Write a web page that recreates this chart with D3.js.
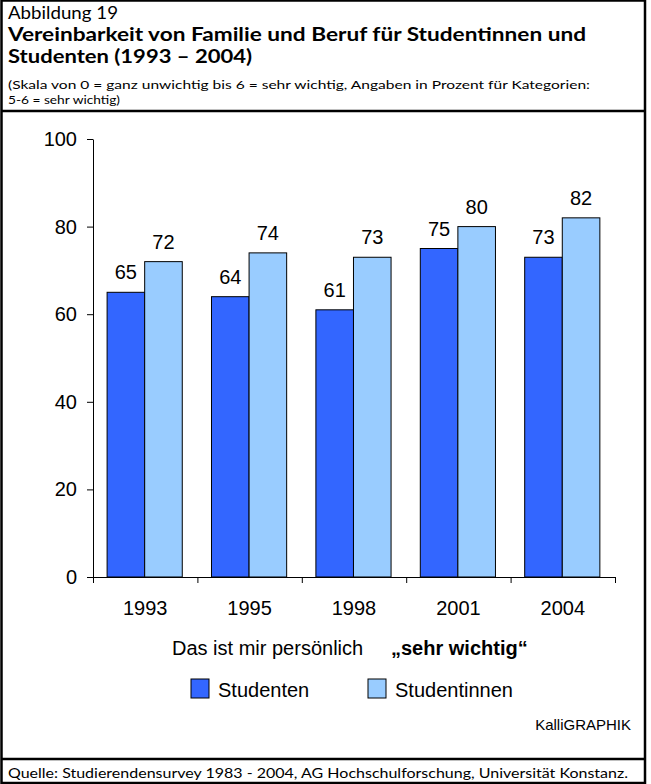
<!DOCTYPE html>
<html>
<head>
<meta charset="utf-8">
<script src="https://cdn.jsdelivr.net/npm/d3@7"></script>
<style>
  html, body { margin: 0; padding: 0; background: #fff; }
  svg { display: block; }
</style>
</head>
<body>
<svg id="chart" width="651" height="784"></svg>
<script>
// Survey years and the share (%) rating the item 5-6 ("sehr wichtig")
const years = ["1993", "1995", "1998", "2001", "2004"];
const seriesNames = ["Studenten", "Studentinnen"];
const studenten = [65, 64, 61, 75, 73];
const studentinnen = [72, 74, 73, 80, 82];
const seriesColors = ["#3366FF", "#99CCFF"];
const yTicks = [0, 20, 40, 60, 80, 100];

const titleLines = [
  { text: "Abbildung 19", weight: "normal", size: 18, y: 19, len: 110 },
  { text: "Vereinbarkeit von Familie und Beruf für Studentinnen und", weight: "bold", size: 18, y: 41, len: 578 },
  { text: "Studenten (1993 – 2004)", weight: "bold", size: 18, y: 63, len: 244 },
  { text: "(Skala von 0 = ganz unwichtig bis 6 = sehr wichtig, Angaben in Prozent für Kategorien:", weight: "normal", size: 12, y: 89, len: 582 },
  { text: "5-6 = sehr wichtig)", weight: "normal", size: 12, y: 104, len: 112 }
];
const sourceText = "Quelle: Studierendensurvey 1983 - 2004, AG Hochschulforschung, Universität Konstanz.";

const svg = d3.select("#chart");
const H = 784;
const boxRight = 645;

// Frame and section separators
svg.append("rect").attr("x", 1.5).attr("y", 0.5).attr("width", boxRight - 1.5).attr("height", H - 1.5)
  .attr("fill", "none").attr("stroke", "#000").attr("stroke-width", 2.5);
svg.append("line").attr("x1", 1).attr("x2", boxRight).attr("y1", 111).attr("y2", 111)
  .attr("stroke", "#000").attr("stroke-width", 2.5);
svg.append("line").attr("x1", 1).attr("x2", boxRight).attr("y1", 759).attr("y2", 759)
  .attr("stroke", "#000").attr("stroke-width", 2.5);

// Header text
const titleFont = "Lato, 'Open Sans', sans-serif";
svg.selectAll("text.title").data(titleLines).join("text")
  .attr("class", "title")
  .attr("x", 8).attr("y", d => d.y)
  .attr("font-family", titleFont)
  .attr("font-size", d => d.size)
  .attr("font-weight", d => d.weight)
  .attr("textLength", d => d.len)
  .attr("lengthAdjust", "spacingAndGlyphs")
  .text(d => d.text);

svg.append("text")
  .attr("x", 8).attr("y", 778)
  .attr("font-family", titleFont).attr("font-size", 14)
  .attr("textLength", 620).attr("lengthAdjust", "spacingAndGlyphs")
  .text(sourceText);

// Plot area
const plot = { left: 93, right: 615, top: 139, bottom: 577 };
const axisFont = "'Liberation Sans', Arial, sans-serif";

const x0 = d3.scaleBand().domain(years).range([plot.left, plot.right]).padding(0);
const x1 = d3.scaleBand().domain(seriesNames)
  .range([x0.bandwidth() * 0.135, x0.bandwidth() * 0.855]).padding(0);
const y = d3.scaleLinear().domain([0, 100]).range([plot.bottom, plot.top]);

const rows = years.map((yr, i) => ({
  year: yr,
  values: [
    { key: seriesNames[0], value: studenten[i], color: seriesColors[0] },
    { key: seriesNames[1], value: studentinnen[i], color: seriesColors[1] }
  ]
}));

const groups = svg.append("g").selectAll("g").data(rows).join("g")
  .attr("transform", d => `translate(${x0(d.year)},0)`);

groups.selectAll("rect").data(d => d.values).join("rect")
  .attr("x", d => x1(d.key))
  .attr("y", d => y(d.value))
  .attr("width", x1.bandwidth())
  .attr("height", d => y(0) - y(d.value))
  .attr("fill", d => d.color)
  .attr("stroke", "#000").attr("stroke-width", 1);

groups.selectAll("text").data(d => d.values).join("text")
  .attr("x", d => x1(d.key) + x1.bandwidth() / 2)
  .attr("y", d => y(d.value) - 13)
  .attr("text-anchor", "middle")
  .attr("font-family", axisFont).attr("font-size", 20)
  .text(d => d.value);

// Y axis
const yAxis = svg.append("g").attr("transform", `translate(${plot.left},0)`)
  .call(d3.axisLeft(y).tickValues(yTicks).tickSize(6).tickPadding(10).tickSizeOuter(0));
yAxis.selectAll("text").attr("font-family", axisFont).attr("font-size", 20).attr("fill", "#000");
yAxis.selectAll("line, path").attr("stroke", "#000");

// X axis: boundary ticks between year groups, labels centred under each group
const boundaries = years.map(yr => x0(yr)).concat([plot.right]);
const xb = d3.scaleLinear().domain([plot.left, plot.right]).range([plot.left, plot.right]);
const xAxis = svg.append("g").attr("transform", `translate(0,${plot.bottom})`)
  .call(d3.axisBottom(xb).tickValues(boundaries).tickSize(6).tickSizeOuter(0).tickFormat(""));
xAxis.selectAll("line, path").attr("stroke", "#000");

const xLabels = svg.append("g").attr("transform", `translate(0,${plot.bottom})`)
  .call(d3.axisBottom(x0).tickSize(0).tickPadding(24));
xLabels.select(".domain").remove();
xLabels.selectAll("text").attr("font-family", axisFont).attr("font-size", 20).attr("fill", "#000");

// Axis caption
const caption = svg.append("text").attr("y", 655)
  .attr("font-family", axisFont).attr("font-size", 20).attr("x", 172);
caption.append("tspan").text("Das ist mir persönlich");
caption.append("tspan").attr("x", 391).attr("font-weight", "bold").text("„sehr wichtig“");

// Legend
const legendItems = seriesNames.map((n, i) => ({ name: n, color: seriesColors[i], x: [191, 368][i] }));
const lg = svg.append("g").selectAll("g").data(legendItems).join("g")
  .attr("transform", d => `translate(${d.x},679)`);
lg.append("rect").attr("width", 18).attr("height", 19)
  .attr("fill", d => d.color).attr("stroke", "#000").attr("stroke-width", 1);
lg.append("text").attr("x", 27).attr("y", 18)
  .attr("font-family", axisFont).attr("font-size", 20)
  .text(d => d.name);

// Producer mark
svg.append("text").attr("x", 631).attr("y", 730).attr("text-anchor", "end")
  .attr("font-family", axisFont).attr("font-size", 15)
  .text("KalliGRAPHIK");
</script>
</body>
</html>
